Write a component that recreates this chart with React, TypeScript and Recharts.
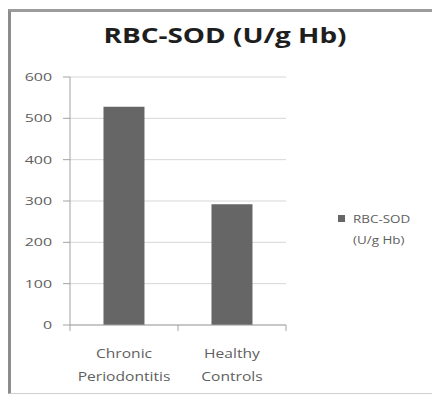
import React from 'react';
import { BarChart, Bar, XAxis, YAxis, CartesianGrid, Legend } from 'recharts';

// Chart data
const categories = ['Chronic Periodontitis', 'Healthy Controls'];
const categoryLines = [
  ['Chronic', 'Periodontitis'],
  ['Healthy', 'Controls'],
];
const sodValues = [528, 292];
const yTicks = [0, 100, 200, 300, 400, 500, 600];
const seriesName = 'RBC-SOD (U/g Hb)';
const legendLines = ['RBC-SOD', '(U/g Hb)'];
const chartTitle = 'RBC-SOD (U/g Hb)';

const data = categories.map((category, i) => ({ category, value: sodValues[i] }));

const FONT = '"Open Sans", "Noto Sans", Arial, sans-serif';
const AXIS_COLOR = '#a3a3a3';
const GRID_COLOR = '#d6d6d6';
const BAR_COLOR = '#666666';
const TEXT_COLOR = '#606060';
const STRETCH = 1.3;

const YTick = (props: any) => {
  const { x, y, payload } = props;
  return (
    <text
      transform={`translate(${x},${y}) scale(1.45,1)`}
      textAnchor="end"
      dy="0.36em"
      fontSize={11}
      fontFamily={FONT}
      fill={TEXT_COLOR}
    >
      {payload.value}
    </text>
  );
};

const XTick = (props: any) => {
  const { x, y, payload, width, visibleTicksCount, index } = props;
  const half = width / visibleTicksCount / 2;
  const idx = categories.indexOf(payload.value);
  const lines = categoryLines[idx] || [String(payload.value)];
  const isLast = index === visibleTicksCount - 1;
  return (
    <g>
      <line x1={x - half} x2={x - half} y1={y} y2={y + 6} stroke={AXIS_COLOR} />
      {isLast && <line x1={x + half} x2={x + half} y1={y} y2={y + 6} stroke={AXIS_COLOR} />}
      {lines.map((line, i) => (
        <text
          key={i}
          transform={`translate(${x},${y + 33 + i * 22.5}) scale(${STRETCH},1)`}
          textAnchor="middle"
          fontSize={12}
          fontFamily={FONT}
          fill={TEXT_COLOR}
        >
          {line}
        </text>
      ))}
    </g>
  );
};

const LegendContent = () => (
  <div style={{ position: 'relative', width: 100, height: 40, fontFamily: FONT }}>
    <div
      style={{
        position: 'absolute',
        left: 2,
        top: 5,
        width: 7,
        height: 7,
        background: BAR_COLOR,
      }}
    />
    {legendLines.map((line, i) => (
      <div
        key={i}
        style={{
          position: 'absolute',
          left: 17,
          top: i * 21,
          fontSize: 11,
          lineHeight: '17px',
          color: TEXT_COLOR,
          whiteSpace: 'nowrap',
          transform: `scaleX(1.22)`,
          transformOrigin: 'left center',
        }}
      >
        {line}
      </div>
    ))}
  </div>
);

export default function App() {
  return (
    <div
      style={{
        position: 'relative',
        width: 440,
        height: 394,
        marginLeft: -8,
        marginTop: -8,
        background: '#ffffff',
        overflow: 'hidden',
      }}
    >
      <div
        style={{
          position: 'absolute',
          left: 7,
          top: 9,
          width: 431,
          height: 385,
          boxSizing: 'border-box',
          borderLeft: '4px solid #8c8c8c',
          borderTop: '3px solid #9c9c9c',
          borderRight: '1px solid #cfcfcf',
          borderBottom: '1px solid #cfcfcf',
        }}
      />
      <div style={{ position: 'absolute', left: 0, top: 0 }}>
        <BarChart
          width={440}
          height={394}
          data={data}
          margin={{ top: 77, right: 154, bottom: 9, left: 0 }}
          barCategoryGap="31%"
        >
          <CartesianGrid vertical={false} stroke={GRID_COLOR} />
          <XAxis
            dataKey="category"
            height={60}
            tickLine={false}
            tickSize={0}
            tickMargin={0}
            interval={0}
            axisLine={{ stroke: AXIS_COLOR }}
            tick={<XTick />}
          />
          <YAxis
            width={70}
            domain={[0, 600]}
            ticks={yTicks}
            interval={0}
            tickSize={7}
            tickMargin={11}
            tickLine={{ stroke: AXIS_COLOR }}
            axisLine={{ stroke: AXIS_COLOR }}
            tick={<YTick />}
          />
          <Legend
            layout="vertical"
            align="center"
            verticalAlign="middle"
            content={<LegendContent />}
            wrapperStyle={{ position: 'absolute', left: 336, top: 210, width: 100 }}
          />
          <Bar dataKey="value" name={seriesName} fill={BAR_COLOR} isAnimationActive={false} />
        </BarChart>
      </div>
      <svg
        width={440}
        height={60}
        style={{ position: 'absolute', left: 0, top: 0, pointerEvents: 'none' }}
      >
        <text
          transform={`translate(225,43) scale(1.27,1)`}
          textAnchor="middle"
          fontSize={22}
          fontWeight="bold"
          fontFamily={FONT}
          fill="#1e1e1e"
        >
          {chartTitle}
        </text>
      </svg>
    </div>
  );
}
